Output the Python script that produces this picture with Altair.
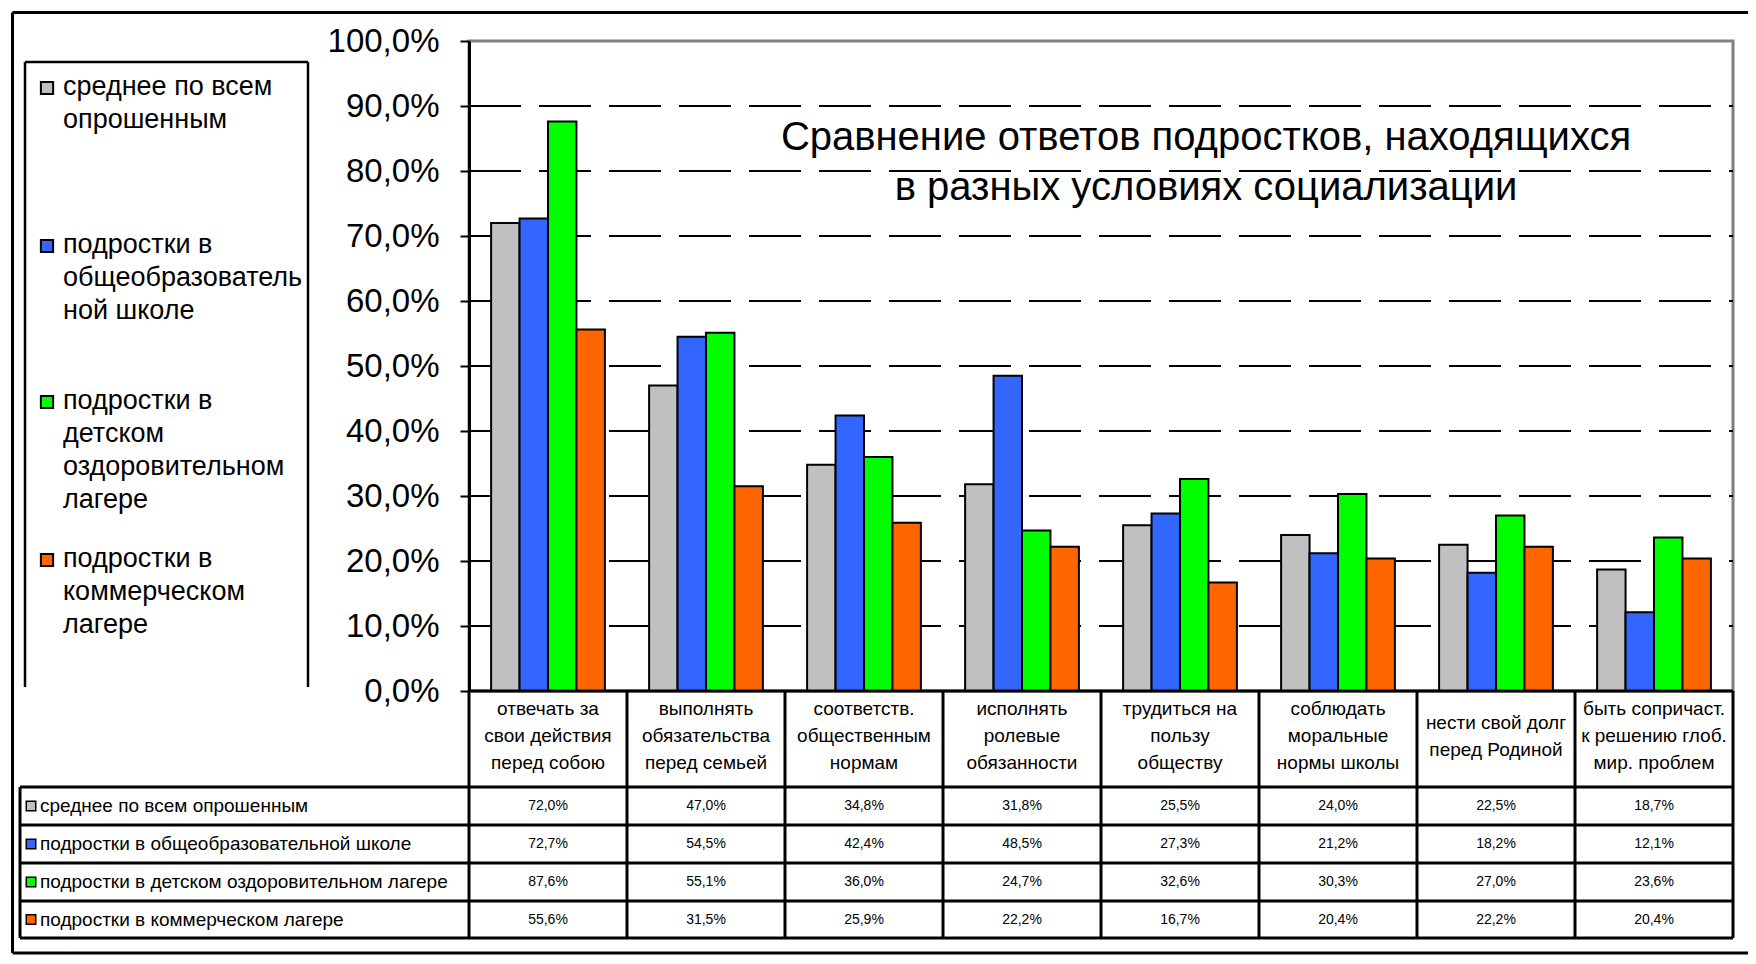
import altair as alt
import pandas as pd

# ---------------- data ----------------
categories = [
    "отвечать за свои действия перед собою",
    "выполнять обязательства перед семьей",
    "соответств. общественным нормам",
    "исполнять ролевые обязанности",
    "трудиться на пользу обществу",
    "соблюдать моральные нормы школы",
    "нести свой долг перед Родиной",
    "быть сопричаст. к решению глоб. мир. проблем",
]
category_lines = [
    ["отвечать за", "свои действия", "перед собою"],
    ["выполнять", "обязательства", "перед семьей"],
    ["соответств.", "общественным", "нормам"],
    ["исполнять", "ролевые", "обязанности"],
    ["трудиться на", "пользу", "обществу"],
    ["соблюдать", "моральные", "нормы школы"],
    ["нести свой долг", "перед Родиной"],
    ["быть сопричаст.", "к решению глоб.", "мир. проблем"],
]
series_names = [
    "среднее по всем опрошенным",
    "подростки в общеобразовательной школе",
    "подростки в детском оздоровительном лагере",
    "подростки в коммерческом лагере",
]
legend_lines = [
    ["среднее по всем", "опрошенным"],
    ["подростки в", "общеобразователь", "ной школе"],
    ["подростки в", "детском", "оздоровительном", "лагере"],
    ["подростки в", "коммерческом", "лагере"],
]
series_colors = ["#C0C0C0", "#3366FF", "#00FF00", "#FF6600"]

avg_all = [72.0, 47.0, 34.8, 31.8, 25.5, 24.0, 22.5, 18.7]
school = [72.7, 54.5, 42.4, 48.5, 27.3, 21.2, 18.2, 12.1]
health_camp = [87.6, 55.1, 36.0, 24.7, 32.6, 30.3, 27.0, 23.6]
commercial_camp = [55.6, 31.5, 25.9, 22.2, 16.7, 20.4, 22.2, 20.4]
series_values = [avg_all, school, health_camp, commercial_camp]

y_ticks = [0, 10, 20, 30, 40, 50, 60, 70, 80, 90, 100]
title_lines = ["Сравнение ответов подростков, находящихся",
               "в разных условиях социализации"]

rows = []
for s, vals in zip(series_names, series_values):
    for c, v in zip(categories, vals):
        rows.append({"category": c, "series": s, "value": v})
df = pd.DataFrame(rows)

# ---------------- layout ----------------
W, H = 1264, 650
PAD = {"left": 461, "top": 33, "right": 15, "bottom": 265}
SMALL = "Liberation Sans Narrow, Arial Narrow, Liberation Sans, Arial"
REG = "Liberation Sans"
STEP = W / 8.0

row_lines = [746, 784, 822, 860, 897]
row_centers = [(row_lines[i] + row_lines[i + 1]) / 2 for i in range(4)]
one = pd.DataFrame({"a": [0]})

xscale = alt.Scale(domain=categories, paddingInner=0.28, paddingOuter=0.14)
label_expr = "replace(format(datum.value, '.1f'), '.', ',') + '%'"
yaxis = alt.Axis(values=y_ticks, labelExpr=label_expr, grid=False, title=None,
                 domainColor="black", domainWidth=3, tickColor="black",
                 tickWidth=2, tickSize=9, labelFont=REG, labelFontSize=33,
                 labelColor="black", labelPadding=21, labelOverlap=False)
yscale = alt.Scale(domain=[0, 100])


def rule(x1, y1, x2, y2, w=2.5, color="black"):
    return alt.Chart(one).mark_rule(color=color, strokeWidth=w).encode(
        x=alt.value(x1), x2=alt.value(x2), y=alt.value(y1), y2=alt.value(y2))


layers = []

# dashed gridlines
grid = alt.Chart(pd.DataFrame({"value": y_ticks[1:-1]})).mark_rule(
    color="black", strokeWidth=2, strokeDash=[52, 18]
).encode(y=alt.Y("value:Q", scale=yscale, axis=yaxis),
         x=alt.value(0), x2=alt.value(W))
layers.append(grid)

# bars
bars = alt.Chart(df).mark_bar(stroke="black", strokeWidth=2).encode(
    x=alt.X("category:N", scale=xscale, axis=None),
    xOffset=alt.XOffset("series:N", sort=series_names,
                        scale=alt.Scale(domain=series_names, paddingInner=0, paddingOuter=0)),
    y=alt.Y("value:Q", scale=yscale, axis=yaxis),
    color=alt.Color("series:N", scale=alt.Scale(domain=series_names, range=series_colors),
                    legend=None),
)
layers.append(bars)

# title
for i, t in enumerate(title_lines):
    layers.append(alt.Chart(one).mark_text(font=REG, fontSize=40, color="black",
                                           align="center", baseline="middle").encode(
        x=alt.value(737), y=alt.value(97 + 50 * i), text=alt.value(t)))

# table: category header labels (block vertically centred in the header row)
catdf = pd.DataFrame({"category": categories,
                      "label": ["\n".join(l) for l in category_lines],
                      "n": [len(l) for l in category_lines]})
HEADER_MID, CAT_LH = 695, 27
for n in sorted(set(catdf["n"])):
    layers.append(alt.Chart(catdf).transform_filter(alt.datum.n == int(n)).mark_text(
        font=SMALL, fontSize=19, lineBreak="\n", lineHeight=CAT_LH, baseline="middle",
        align="center", color="black").encode(
        x=alt.X("category:N", scale=xscale, axis=None),
        y=alt.value(HEADER_MID - (n - 1) * CAT_LH / 2), text="label:N"))

# table: values
for i, s in enumerate(series_names):
    layers.append(alt.Chart(df).transform_filter(alt.datum.series == s).transform_calculate(
        lbl=label_expr
    ).mark_text(font=SMALL, fontSize=14, baseline="middle", align="center",
                color="black").encode(
        x=alt.X("category:N", scale=xscale, axis=None),
        y=alt.value(row_centers[i]), text="lbl:N"))

# table: series labels with colour keys
for i, s in enumerate(series_names):
    sdf = pd.DataFrame({"series": [s]})
    layers.append(alt.Chart(sdf).mark_square(size=90, stroke="black", strokeWidth=1.5,
                                             opacity=1, filled=True).encode(
        x=alt.value(-438), y=alt.value(row_centers[i]), color=alt.value(series_colors[i])))
    layers.append(alt.Chart(sdf).mark_text(font=SMALL, fontSize=19, baseline="middle",
                                           align="left", color="black").encode(
        x=alt.value(-429), y=alt.value(row_centers[i]), text="series:N"))

# legend box entries
legend_centers = [47, 205, 361, 519]
for i, s in enumerate(series_names):
    ldf = pd.DataFrame({"series": [s], "label": ["\n".join(legend_lines[i])]})
    layers.append(alt.Chart(ldf).mark_square(size=150, stroke="black", strokeWidth=2,
                                             opacity=1, filled=True).encode(
        x=alt.value(-422), y=alt.value(legend_centers[i]), color=alt.value(series_colors[i])))
    layers.append(alt.Chart(ldf).mark_text(font=REG, fontSize=27, lineBreak="\n",
                                           lineHeight=33, baseline="top",
                                           align="left", color="black").encode(
        x=alt.value(-406), y=alt.value(legend_centers[i] - 14), text="label:N"))

# legend frame (open at bottom)
layers += [rule(-444, 21, -161, 21), rule(-444, 21, -444, 646), rule(-161, 21, -161, 646)]

# table frame
layers.append(rule(0, 650, W, 650, 3))
for y in row_lines:
    layers.append(rule(-449, y, W, y, 3))
layers.append(rule(-449, row_lines[0], -449, row_lines[-1], 3))
layers.append(rule(0, 650, 0, row_lines[-1], 3))
for k in range(1, 8):
    layers.append(rule(STEP * k, 650, STEP * k, row_lines[-1], 3))
layers.append(rule(W, 650, W, row_lines[-1], 3))

# outer frame
layers += [rule(-456.5, -28.5, 1300, -28.5, 3), rule(-456.5, -28.5, -456.5, 912, 3),
           rule(-456.5, 912, 1300, 912, 3)]

chart = alt.layer(*layers).properties(
    width=W, height=H, padding=PAD,
    autosize=alt.AutoSizeParams(type="none"),
    background="white",
).configure_view(stroke="#808080", strokeWidth=3)

chart.save("out.html", embed_options={"renderer": "svg", "actions": False})
